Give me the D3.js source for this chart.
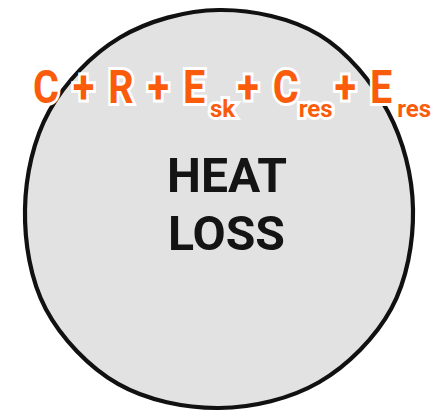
<!DOCTYPE html>
<html>
<head>
<meta charset="utf-8">
<script src="https://cdn.jsdelivr.net/npm/d3@7"></script>
<style>
  html, body { margin: 0; padding: 0; background: #ffffff; }
  svg { display: block; }
</style>
</head>
<body>
<svg id="chart" width="436" height="414"></svg>
<script>
// ---- data ----
const outlineAngles = [0, 30, 60, 90, 120, 150, 180, 210, 240, 270, 300, 330];   // degrees, clockwise from east
const outlineRadii  = [194, 199, 200, 199, 202, 200, 194, 196, 198, 199, 201, 195];
const formulaBase   = ["C", "+", "R", "+", "E", "+", "C", "+", "E"];
const formulaSubs   = ["",  "",  "",  "",  "sk", "", "res", "", "res"];
const titleLines    = ["HEAT", "LOSS"];

// ---- drawing ----
const svg = d3.select("#chart");
const cx = 219, cy = 209;

const angle = d3.scaleLinear().domain([0, 360]).range([Math.PI / 2, Math.PI / 2 + 2 * Math.PI]);
const radial = d3.lineRadial()
  .angle((d, i) => angle(outlineAngles[i]))
  .radius(d => d)
  .curve(d3.curveCardinalClosed.tension(0));

svg.append("path")
  .attr("transform", `translate(${cx},${cy})`)
  .attr("d", radial(outlineRadii))
  .attr("fill", "#e2e2e2")
  .attr("stroke", "#111111")
  .attr("stroke-width", 4.2);

// formula: build token list, measure, then lay out across the line
const tokens = [];
formulaBase.forEach((b, i) => {
  tokens.push({ text: b, kind: b === "+" ? "plus" : "base" });
  if (formulaSubs[i]) tokens.push({ text: formulaSubs[i], kind: "sub" });
});
const styleFor = {
  base: { size: 46, sx: 0.86, dy: 0 },
  plus: { size: 46, sx: 0.86, dy: 0 },
  sub:  { size: 24, sx: 1.0, dy: 14 }
};
const gapWeight = (a, b) => {
  if (b.kind === "sub") return a.text === "E" ? 0.35 : 0.0;
  if (a.kind === "sub") return 0.15;
  return 1;
};
const lineX0 = 33, lineX1 = 431, baseY = 103;

const fg = svg.append("g");
const nodes = tokens.map(t => {
  const st = styleFor[t.kind];
  const g = fg.append("g");
  const txt = g.append("text")
    .attr("font-family", "Roboto, 'DejaVu Sans', sans-serif")
    .attr("font-weight", 700)
    .attr("font-size", st.size)
    .attr("fill", "#fb5c0c")
    .attr("stroke", "#ffffff")
    .attr("stroke-width", 6)
    .attr("stroke-linejoin", "miter")
    .attr("paint-order", "stroke")
    .text(t.text);
  const w = txt.node().getComputedTextLength() * st.sx;
  return { t, g, w, st };
});
const totalW = d3.sum(nodes, n => n.w);
let wsum = 0;
for (let i = 1; i < nodes.length; i++) wsum += gapWeight(nodes[i - 1].t, nodes[i].t);
const unit = Math.max(0, (lineX1 - lineX0 - totalW) / wsum);
let x = lineX0;
nodes.forEach((n, i) => {
  if (i > 0) x += gapWeight(nodes[i - 1].t, n.t) * unit;
  n.g.attr("transform", `translate(${x},${baseY + n.st.dy}) scale(${n.st.sx},1)`);
  x += n.w;
});

// title
const titleY = d3.scalePoint().domain(titleLines).range([192, 250]);
const titleW = { HEAT: 120, LOSS: 117 };
svg.selectAll("text.title")
  .data(titleLines)
  .join("text")
  .attr("class", "title")
  .attr("x", d => d === "HEAT" ? 167 : 168)
  .attr("y", d => titleY(d))
  .attr("font-family", "Roboto, 'DejaVu Sans', sans-serif")
  .attr("font-weight", 700)
  .attr("font-size", 49)
  .attr("fill", "#141414")
  .attr("textLength", d => titleW[d])
  .attr("lengthAdjust", "spacingAndGlyphs")
  .text(d => d);
</script>
</body>
</html>
